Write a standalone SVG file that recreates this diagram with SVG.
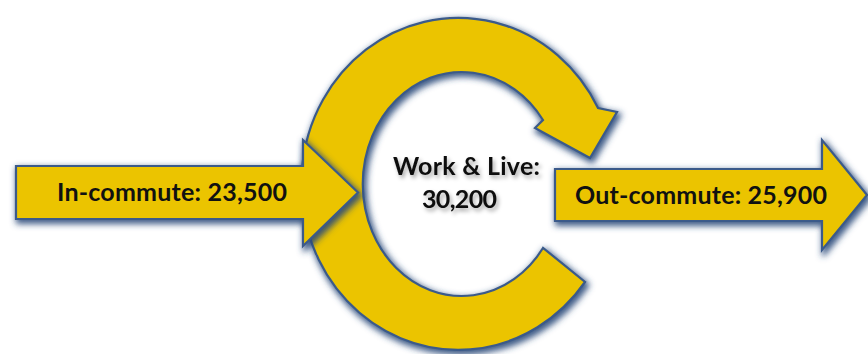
<svg xmlns="http://www.w3.org/2000/svg" width="868" height="354" viewBox="0 0 868 354">
<defs>
<filter id="sh" x="-10%" y="-15%" width="125%" height="135%">
<feMorphology in="SourceAlpha" operator="dilate" radius="1" result="d"/>
<feGaussianBlur in="d" stdDeviation="3.2"/>
<feOffset dx="1.5" dy="2.5" result="b"/>
<feFlood flood-color="#2a4a7a" flood-opacity="0.9"/>
<feComposite in2="b" operator="in"/>
<feMerge><feMergeNode/><feMergeNode in="SourceGraphic"/></feMerge>
</filter>
<filter id="ts" x="-10%" y="-30%" width="125%" height="170%">
<feGaussianBlur in="SourceAlpha" stdDeviation="2"/>
<feOffset dx="2" dy="3" result="b"/>
<feFlood flood-color="#000" flood-opacity="0.35"/>
<feComposite in2="b" operator="in"/>
<feMerge><feMergeNode/><feMergeNode in="SourceGraphic"/></feMerge>
</filter>
</defs>
<style>
.shape{fill:#EBC400;stroke:#3a5a8a;stroke-width:2.2;stroke-linejoin:miter}
.lbl{font-family:Lato,"Open Sans","Liberation Sans",sans-serif;font-weight:bold;font-size:25px;fill:#111}
</style>
<rect width="868" height="354" fill="#fff"/>
<g id="work-live">
<path class="shape" filter="url(#sh)" d="M 585 282 A 157 166 0 1 1 598 108 L 617 112 L 590 158 L 535 128 L 543 120 A 99 112 0 1 0 543 248 Z"/>
<g filter="url(#ts)">
<text class="lbl" x="393" y="175" textLength="147">Work &amp; Live:</text>
<text class="lbl" x="422" y="208" textLength="75">30,200</text>
</g>
</g>
<g id="in-commute">
<path class="shape" filter="url(#sh)" d="M 16 166 L 303 166 L 303 140 L 358 192.5 L 303 246 L 303 219 L 16 219 Z"/>
<text class="lbl" x="57" y="201" textLength="230">In-commute: 23,500</text>
</g>
<g id="out-commute">
<path class="shape" filter="url(#sh)" d="M 555 169 L 822 169 L 822 140 L 867 195 L 822 250 L 822 221 L 555 221 Z"/>
<text class="lbl" x="575" y="204" textLength="252">Out-commute: 25,900</text>
</g>
<g id="connectors"/>
</svg>
